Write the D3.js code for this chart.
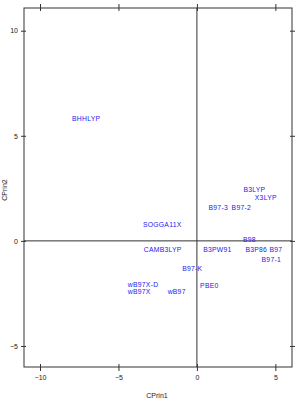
<!DOCTYPE html>
<html><head><meta charset="utf-8">
<script src="https://cdn.jsdelivr.net/npm/d3@7"></script>
<style>body{margin:0;background:#fff}svg{display:block}</style>
</head><body>
<script>
const names = ["BHHLYP","SOGGA11X","CAMB3LYP","B3LYP","X3LYP","B97-3","B97-2","B98","B3PW91","B3P86","B97","B97-1","B97-K","PBE0","wB97X-D","wB97X","wB97"];
const prin1 = [-7.06,-2.21,-2.18,3.66,4.39,1.36,2.83,3.35,1.30,3.78,5.03,4.74,-0.30,0.79,-3.43,-3.68,-1.29];
const prin2 = [5.84,0.76,-0.40,2.46,2.08,1.59,1.59,0.05,-0.40,-0.40,-0.40,-0.87,-1.31,-2.11,-2.06,-2.42,-2.40];
const xTicks = [-10,-5,0,5];
const yTicks = [-5,0,5,10];

const W=301,H=403;
const svg=d3.select("body").append("svg").attr("width",W).attr("height",H);
const L=24,R=292,T=8,B=367;
const x=d3.scaleLinear().domain([-11.02,6.06]).range([L,R]);
const y=d3.scaleLinear().domain([-6,11.08]).range([B,T]);
const col="#333";
const ff="Liberation Sans, Arial, sans-serif";

svg.append("rect").attr("x",L).attr("y",T).attr("width",R-L).attr("height",B-T)
  .attr("fill","none").attr("stroke",col).attr("stroke-width",1);
svg.append("line").attr("x1",x(0)).attr("x2",x(0)).attr("y1",T).attr("y2",B).attr("stroke",col);
svg.append("line").attr("x1",L).attr("x2",R).attr("y1",y(0)).attr("y2",y(0)).attr("stroke",col);

const fmt=d3.format("d");
const xb=svg.append("g").attr("transform",`translate(0,${B})`)
  .call(d3.axisBottom(x).tickValues(xTicks).tickSize(4).tickFormat(fmt));
const xt=svg.append("g").attr("transform",`translate(0,${T})`)
  .call(d3.axisTop(x).tickValues(xTicks).tickSize(4).tickFormat(""));
const yl=svg.append("g").attr("transform",`translate(${L},0)`)
  .call(d3.axisLeft(y).tickValues(yTicks).tickSize(3).tickFormat(fmt));
const yr=svg.append("g").attr("transform",`translate(${R},0)`)
  .call(d3.axisRight(y).tickValues(yTicks).tickSize(3).tickFormat(""));
[xb,xt,yl,yr].forEach(g=>{
  g.select(".domain").remove();
  g.selectAll(".tick line").attr("stroke",col);
  g.selectAll("text").attr("fill","#222").style("font-family",ff).style("font-size","7px");
});
xb.selectAll(".tick line").attr("y1",-3).attr("y2",4);
xt.selectAll(".tick line").attr("y1",3).attr("y2",-4);
yl.selectAll(".tick line").attr("x1",2).attr("x2",-3);
yr.selectAll(".tick line").attr("x1",-2).attr("x2",3);
xb.selectAll("text").attr("y",8);
yl.selectAll("text").attr("x",-6);

svg.append("text").attr("x",157).attr("y",398).attr("text-anchor","middle")
  .style("font-family",ff).style("font-size","7px").attr("fill","#222").text("CPrin1");
svg.append("text").attr("transform","translate(7,190) rotate(-90)").attr("text-anchor","middle")
  .style("font-family",ff).style("font-size","7px").attr("fill","#222").text("CPrin2");

svg.append("g").selectAll("text").data(names).join("text")
  .attr("x",(d,i)=>x(prin1[i])).attr("y",(d,i)=>y(prin2[i]))
  .attr("dy","0.35em").attr("text-anchor","middle")
  .style("font-family",ff).style("font-size","6.8px").style("letter-spacing","0.25px")
  .attr("fill","#2020ee").text(d=>d);
</script>
</body></html>
